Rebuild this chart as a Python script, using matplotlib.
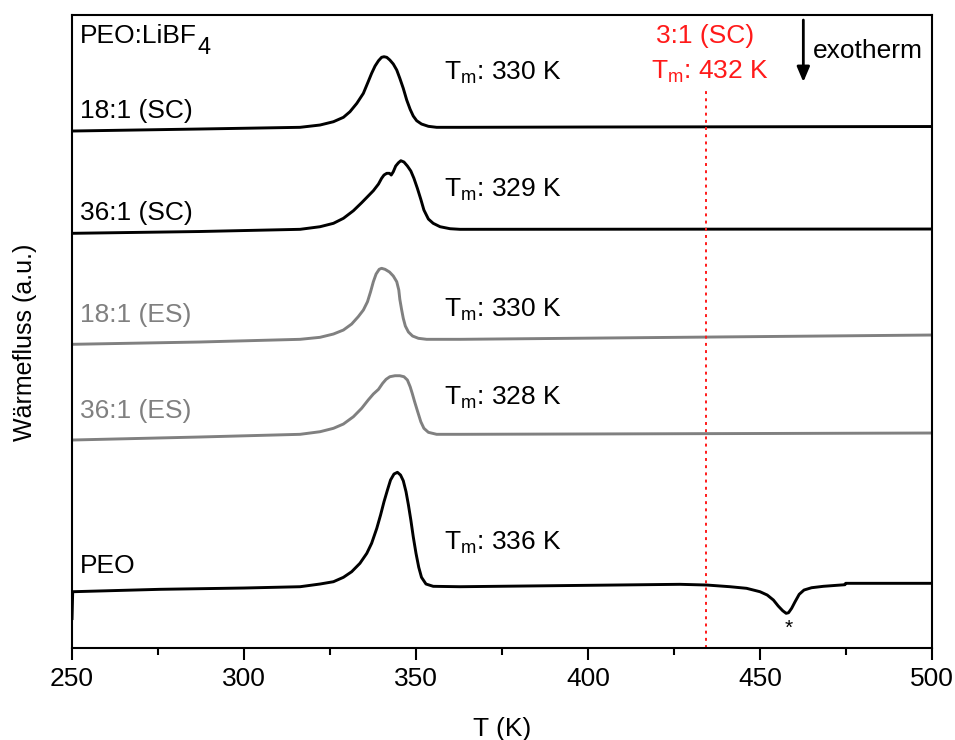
import matplotlib
matplotlib.use("Agg")
import matplotlib.pyplot as plt
from matplotlib.ticker import MultipleLocator

plt.rcParams['font.family'] = ['Liberation Sans', 'DejaVu Sans']
plt.rcParams['mathtext.default'] = 'regular'

# curves (T in K, heat flow in a.u. incl. vertical offset)
T_18sc = [250, 287, 316.3, 322.1, 326.0, 328.9, 330.8, 332.8, 334.7, 336.1, 337.1, 338.1,
          339.1, 340.0, 340.7, 341.5, 342.4, 343.4, 344.4, 345.3, 346.3, 347.3, 348.3,
          349.2, 350.2, 351.6, 353.6, 356.0, 362.8, 400, 500]
H_18sc = [517, 519, 520.7, 523, 526.3, 530.7, 536.3, 544.7, 554.7, 566.3, 574.7, 582,
          587.3, 590.7, 591.3, 590.7, 588, 584, 578, 569.7, 559.7, 548, 538.7,
          532, 527.3, 524, 521.7, 520.7, 520.7, 521, 521.5]

T_36sc = [250, 287, 316.3, 322.1, 326.0, 328.9, 331.8, 334.2, 336.1, 337.6, 339.1, 340.0,
          340.7, 341.5, 342.3, 342.8, 343.4, 344.1, 344.9, 345.6, 346.5, 347.5, 348.5,
          349.4, 350.4, 351.4, 352.3, 353.6, 355.0, 357.0, 359.9, 362.8, 500]
H_36sc = [414.7, 416.5, 418.7, 421.3, 424.7, 429.7, 437.3, 445.3, 452, 457.3, 464, 469.7,
          473, 474.7, 474.7, 473, 476.3, 482, 485.3, 487.3, 486, 482, 477,
          469.7, 459.7, 448.7, 438, 429, 424.7, 421.3, 419.3, 418.7, 419]

T_18es = [250, 287, 316.3, 322.1, 326.0, 328.9, 331.3, 333.2, 334.7, 335.9, 336.8, 337.6,
          338.4, 339.3, 340.0, 341.0, 342.3, 343.4, 344.4, 345.0, 345.3, 345.8, 346.3,
          346.9, 347.8, 349.0, 350.7, 353.1, 362.8, 500]
H_18es = [303.7, 306, 308.7, 310.7, 314, 318, 324, 331.3, 338, 346.3, 356.3, 366.3,
          374, 378.7, 379.7, 378.7, 376, 372, 366.3, 358, 348.7, 338.7, 329.7,
          322, 316, 312, 309.7, 308.7, 308.7, 313]

T_36es = [250, 287, 316.3, 322.1, 326.0, 328.9, 331.8, 334.2, 336.1, 337.6, 339.1, 340.3,
          341.3, 342.4, 343.9, 345.3, 346.5, 347.5, 348.3, 348.9, 349.6, 350.4, 351.4,
          352.3, 353.6, 356.0, 362.8, 500]
H_36es = [208, 211, 213.7, 216.3, 219.7, 224, 231.3, 239.7, 248, 254, 258.7, 264.7,
          268.7, 271.3, 272.3, 272.3, 271.3, 268, 261.3, 254.7, 246.3, 237.3, 226.3,
          219.7, 215.7, 213.7, 213.7, 215]

T_peo = [250, 250.2, 275.6, 300, 316.3, 322.1, 326.0, 328.9, 331.3, 333.7, 335.7, 337.1,
         338.6, 339.7, 340.7, 341.7, 342.6, 343.6, 344.6, 345.5, 346.3, 347.1, 347.8,
         348.5, 349.2, 350.0, 350.8, 351.6, 352.9, 355.0, 362.8, 426.7, 434.5, 441.3,
         446.1, 450.0, 452.1, 453.9, 455.3, 456.6, 457.6, 458.3, 459.2, 460.2, 461.4,
         462.8, 465.0, 468.4, 472.3, 474.7, 474.9, 484.9, 500]
H_peo = [28, 56.3, 58.7, 60, 61.3, 64, 66.3, 70.7, 76.3, 84.7, 94.7, 104.7,
         119.7, 133, 146.3, 158, 168, 174, 175.7, 173, 167.3, 156.3, 143,
         128, 111.3, 94.7, 80.7, 70.7, 64, 61.7, 61.3, 63.7, 63, 61.3,
         59.7, 56.3, 53, 48, 42, 37.3, 34.7, 35.3, 39.7, 46.3, 53.7,
         58, 60.3, 61.7, 62.7, 63.3, 64.7, 64.7, 64.7]

sample_labels = ['18:1 (SC)', '36:1 (SC)', '18:1 (ES)', '36:1 (ES)', 'PEO']
tm_labels = ['330 K', '329 K', '330 K', '328 K', '336 K']
T_tm_31 = 434.3

black = 'black'
gray = '#808080'
red = '#ff1a1a'

fig = plt.figure(figsize=(9.55, 7.4), dpi=100)
ax = fig.add_axes([0.0754, 0.1243, 0.9005, 0.8554])

curves = [(T_18sc, H_18sc, black), (T_36sc, H_36sc, black), (T_18es, H_18es, gray),
          (T_36es, H_36es, gray), (T_peo, H_peo, black)]
for t, h, c in curves:
    ax.plot(t, h, color=c, lw=2.1, solid_joinstyle='round', solid_capstyle='butt')

ax.axvline(T_tm_31, ymin=0, ymax=0.8815, color=red, lw=1.4, ls=(0, (1.5, 2.2)))

ax.set_xlim(250, 500)
ax.set_ylim(0, 633)
ax.xaxis.set_major_locator(MultipleLocator(50))
ax.xaxis.set_minor_locator(MultipleLocator(25))
ax.tick_params(axis='x', which='major', direction='out', length=8.6, width=1.5,
               labelsize=19, pad=5)
ax.tick_params(axis='x', which='minor', direction='out', length=5, width=1.5)
ax.set_yticks([])
for s in ax.spines.values():
    s.set_linewidth(1.5)

ax.set_xlabel('T (K)', fontsize=19)
ax.xaxis.label.set_va('baseline')
ax.xaxis.set_label_coords(0.5, -0.139)
ax.set_ylabel('Wärmefluss (a.u.)', fontsize=18)
ax.yaxis.set_label_coords(-0.041, 0.483)

fs = 19
# sample names (left) and melting points, baselines
lab_y = [530.5, 428, 326, 230, 75]
lab_c = [black, black, gray, gray, black]
tm_y = [568, 451, 331, 243, 98]
for name, ly, c, tm, ty in zip(sample_labels, lab_y, lab_c, tm_labels, tm_y):
    ax.text(252.4, ly, name, fontsize=fs, color=c, va='baseline')
    ax.text(358.2, ty, 'T$_{m}$: ' + tm, fontsize=fs, color=black, va='baseline')

# title with a large, lowered subscript 4 like the original
title = ax.text(252.4, 605, 'PEO:LiBF', fontsize=fs, va='baseline')
ax.annotate('4', xy=(1, 0), xycoords=title, xytext=(0.3, -4),
            textcoords='offset points', fontsize=17, va='baseline')

ax.text(434.0, 605, '3:1 (SC)', fontsize=fs, color=red, ha='center', va='baseline')
ax.text(435.3, 569, 'T$_{m}$: 432 K', fontsize=fs, color=red, ha='center', va='baseline')

ax.annotate('', xy=(462.6, 566), xytext=(462.6, 628),
            arrowprops=dict(arrowstyle='-|>,head_length=0.9,head_width=0.38',
                            color=black, lw=2, shrinkA=0, shrinkB=0))
ax.text(465.3, 590, 'exotherm', fontsize=fs, va='baseline')
ax.text(458.3, 20, '*', fontsize=15, ha='center', va='center')

fig.savefig('out.png', dpi=100)
